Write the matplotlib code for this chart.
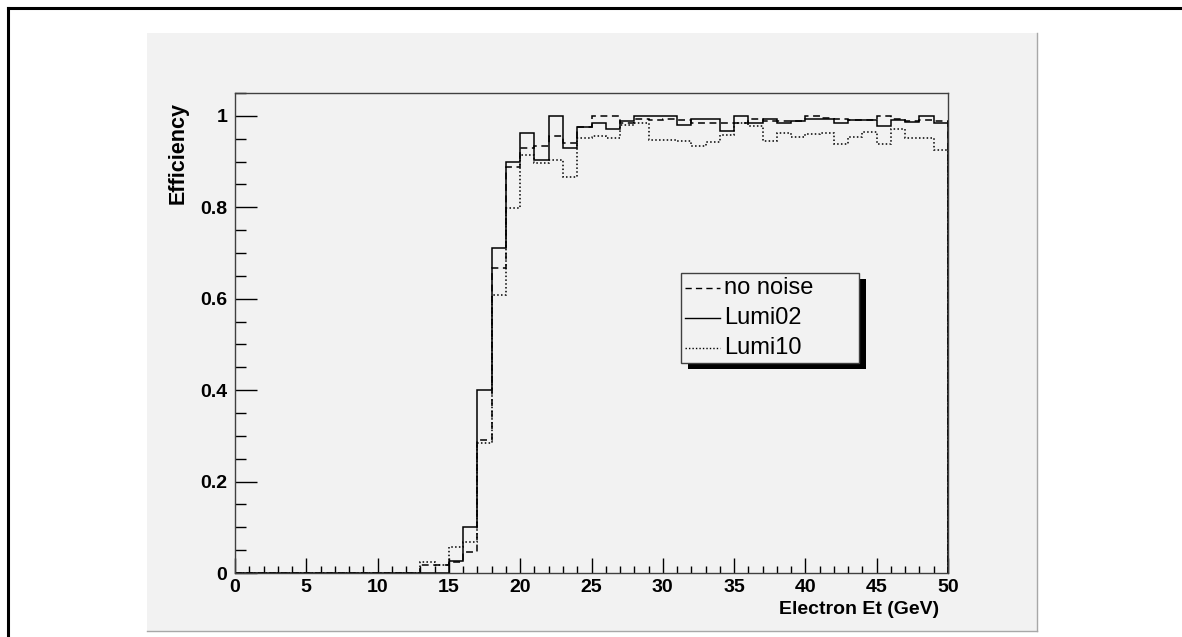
import matplotlib
matplotlib.use("Agg")
import matplotlib.pyplot as plt
from matplotlib.patches import Rectangle
from matplotlib.lines import Line2D
import numpy as np

# ---- data (efficiency per 1 GeV bin, 0..50 GeV) ----
bin_edges = list(range(0, 51))
no_noise = [0.0] * 13 + [
    0.018, 0.018, 0.025, 0.046, 0.29, 0.667, 0.888, 0.93, 0.934, 0.956,
    0.94, 0.976, 1.0, 1.0, 0.985, 0.993, 0.99, 0.993, 0.99, 0.985,
    0.985, 0.985, 0.984, 0.993, 0.988, 0.988, 0.988, 1.0, 0.995, 0.993,
    0.99, 0.99, 1.0, 0.993, 0.988, 0.99, 0.988]
lumi02 = [0.0] * 13 + [
    0.0, 0.0, 0.026, 0.10, 0.40, 0.711, 0.90, 0.963, 0.904, 1.0,
    0.93, 0.975, 0.985, 0.972, 0.988, 1.0, 1.0, 1.0, 0.98, 0.993,
    0.993, 0.967, 1.0, 0.985, 0.993, 0.984, 0.988, 0.993, 0.993, 0.985,
    0.99, 0.99, 0.978, 0.99, 0.986, 1.0, 0.984]
lumi10 = [0.0] * 13 + [
    0.023, 0.018, 0.057, 0.068, 0.285, 0.608, 0.799, 0.915, 0.897, 0.904,
    0.867, 0.952, 0.956, 0.951, 0.98, 0.985, 0.947, 0.947, 0.945, 0.935,
    0.943, 0.958, 0.985, 0.977, 0.945, 0.963, 0.954, 0.96, 0.963, 0.939,
    0.954, 0.965, 0.939, 0.972, 0.952, 0.952, 0.926]
series_labels = ["no noise", "Lumi02", "Lumi10"]
x_ticks = [0, 5, 10, 15, 20, 25, 30, 35, 40, 45, 50]
y_ticks = [0, 0.2, 0.4, 0.6, 0.8, 1.0]
y_tick_labels = ["0", "0.2", "0.4", "0.6", "0.8", "1"]

W, H = 1182, 637
plt.rcParams['font.family'] = ['Liberation Sans', 'DejaVu Sans']
fig = plt.figure(figsize=(W / 100, H / 100), dpi=100)
fig.patch.set_facecolor('white')

def fx(px):
    return px / W

def fy(py):
    return 1 - py / H

# outer black frame (top and left visible)
fig.add_artist(Line2D([fx(8), 1.0], [fy(8), fy(8)], color='black', lw=2.2))
fig.add_artist(Line2D([fx(8), fx(8)], [fy(8), 0.0], color='black', lw=2.2))

# grey canvas pad
fig.add_artist(Rectangle((fx(147), fy(631)), fx(1037) - fx(147), fy(33) - fy(631),
                         facecolor='#f2f2f2', edgecolor='none', zorder=0))
fig.add_artist(Line2D([fx(1037), fx(1037)], [fy(33), fy(631)], color='#a8a8a8', lw=1.0))
fig.add_artist(Line2D([fx(147), fx(1037)], [fy(631), fy(631)], color='#a8a8a8', lw=1.0))

ax = fig.add_axes([fx(235), fy(573), fx(948) - fx(235), fy(93) - fy(573)])
ax.set_facecolor('#f2f2f2')

dash_style = (0, (4.5, 3.0))
dot_style = (0, (1.0, 1.5))
styles = [dash_style, '-', dot_style]
series = [no_noise, lumi02, lumi10]
for vals, ls in zip(series, styles):
    ax.stairs(vals, bin_edges, baseline=0, color='black', lw=1.1, linestyle=ls)

ax.set_xlim(0, 50)
ax.set_ylim(0, 1.05)
ax.set_xticks(x_ticks)
ax.set_xticks(np.arange(0, 51, 1), minor=True)
ax.set_yticks(y_ticks)
ax.set_yticklabels(y_tick_labels)
ax.set_yticks(np.arange(0, 1.051, 0.05), minor=True)
for s in ax.spines.values():
    s.set_color('#404040')
    s.set_linewidth(1.0)
ax.tick_params(axis='x', which='major', direction='in', length=10.8, width=1.0,
               pad=4, labelsize=14, top=False)
ax.tick_params(axis='x', which='minor', direction='in', length=5.0, width=1.0, top=False)
ax.tick_params(axis='y', which='major', direction='in', length=15.8, width=1.0,
               pad=5.5, labelsize=14, right=False)
ax.tick_params(axis='y', which='minor', direction='in', length=8.0, width=1.0, right=False)
for lab in ax.get_xticklabels() + ax.get_yticklabels():
    lab.set_fontweight('bold')

ax.text((939 - 235) / 713, -(610 - 573) / 480, "Electron Et (GeV)", transform=ax.transAxes,
        ha='right', va='center', fontsize=14, fontweight='bold')
ax.text((178 - 235) / 713, (573 - 102) / 480, "Efficiency", transform=ax.transAxes,
        ha='center', va='top', rotation=90, fontsize=15.5, fontweight='bold')

# legend box with shadow
fig.add_artist(Rectangle((fx(688), fy(369)), fx(866) - fx(688), fy(279) - fy(369),
                         facecolor='black', edgecolor='none', zorder=5))
fig.add_artist(Rectangle((fx(681), fy(363)), fx(859) - fx(681), fy(273) - fy(363),
                         facecolor='#f2f2f2', edgecolor='#404040', lw=1.0, zorder=6))
ys = [288, 318, 348]
for lab, ls, yy in zip(series_labels, styles, ys):
    fig.add_artist(Line2D([fx(685), fx(720)], [fy(yy), fy(yy)], color='black', lw=1.0,
                          linestyle=ls, zorder=7))
    fig.text(fx(724), fy(yy), lab, ha='left', va='center', fontsize=17, zorder=7)

fig.savefig("out.png", dpi=100)
